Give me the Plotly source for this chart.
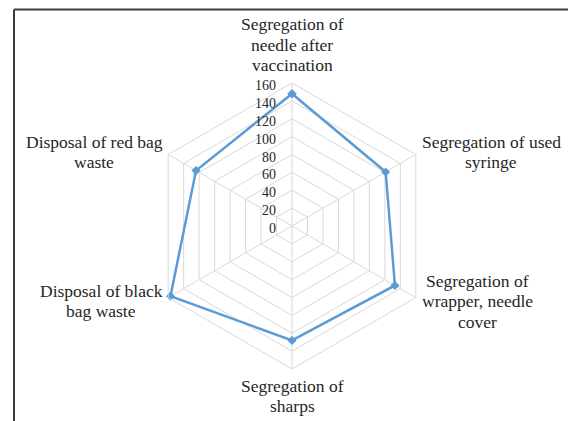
import plotly.graph_objects as go

# Survey categories (clockwise from the top) and their scores
categories = [
    "Segregation of<br>needle after<br>vaccination",
    "Segregation of used<br>syringe",
    "Segregation of<br>wrapper, needle<br>cover",
    "Segregation of<br>sharps",
    "Disposal of black<br>bag waste",
    "Disposal of red bag<br>waste",
]
scores = [148, 121, 133, 128, 157, 124]
radial_ticks = [0, 20, 40, 60, 80, 100, 120, 140, 160]

W, H = 568, 421
cx, cy, R = 292, 226, 143  # centre and outer radius of the radar, in px

line_color = "#5B9BD5"
grid_color = "#D9D9D9"
text_color = "#262626"
font_family = "Times New Roman, Liberation Serif, serif"

fig = go.Figure()
fig.add_trace(
    go.Scatterpolar(
        r=scores + scores[:1],
        theta=categories + categories[:1],
        mode="lines+markers",
        line=dict(color=line_color, width=2.5),
        marker=dict(symbol="diamond", size=7, color=line_color),
        showlegend=False,
    )
)

# Category labels placed around the hexagon, one annotation per text line
label_pos = [
    (292, 45),
    (491, 152),
    (477, 301),
    (292, 396),
    (101, 301),
    (94, 152),
]
line_gap = 20.5
annotations = []
for text, (px, py) in zip(categories, label_pos):
    lines = text.split("<br>")
    n = len(lines)
    for i, ln in enumerate(lines):
        ly = py + (i - (n - 1) / 2) * line_gap
        annotations.append(
            dict(
                text=ln,
                x=px / W,
                y=1 - ly / H,
                xref="paper",
                yref="paper",
                xanchor="center",
                yanchor="middle",
                showarrow=False,
                font=dict(family=font_family, size=17.5, color=text_color),
            )
        )

# Chart frame: top and left edges
frame_x = 14 / W
frame_y = 1 - 9.5 / H
shapes = [
    dict(type="line", xref="paper", yref="paper", x0=frame_x, y0=0, x1=frame_x, y1=frame_y,
         line=dict(color="#3a3a3a", width=2)),
    dict(type="line", xref="paper", yref="paper", x0=frame_x, y0=frame_y, x1=1, y1=frame_y,
         line=dict(color="#3a3a3a", width=2)),
]

fig.update_layout(
    width=W,
    height=H,
    margin=dict(l=0, r=0, t=0, b=0),
    paper_bgcolor="white",
    plot_bgcolor="white",
    font=dict(family=font_family, color=text_color),
    polar=dict(
        domain=dict(x=[(cx - R) / W, (cx + R) / W], y=[1 - (cy + R) / H, 1 - (cy - R) / H]),
        gridshape="linear",
        bgcolor="white",
        radialaxis=dict(
            range=[0, 160],
            tickvals=radial_ticks,
            angle=90,
            side="counterclockwise",
            showline=False,
            gridcolor=grid_color,
            gridwidth=1,
            ticks="outside",
            ticklen=3,
            tickcolor="rgba(0,0,0,0)",
            tickfont=dict(family=font_family, size=14, color=text_color),
        ),
        angularaxis=dict(
            rotation=90,
            direction="clockwise",
            showticklabels=False,
            ticks="",
            showline=True,
            linecolor=grid_color,
            linewidth=1,
            gridcolor=grid_color,
            gridwidth=1,
        ),
    ),
    annotations=annotations,
    shapes=shapes,
)

fig.write_html("out.html")
